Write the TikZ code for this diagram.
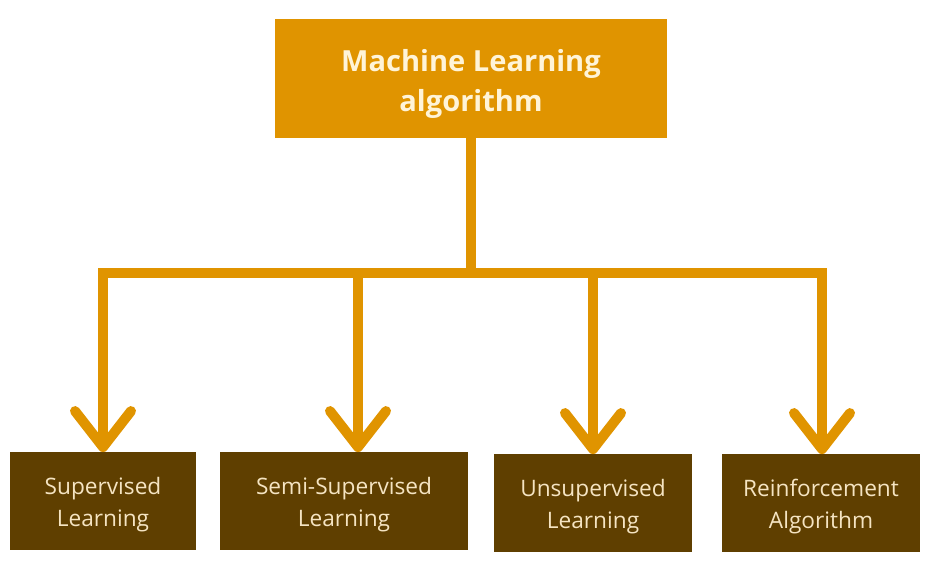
\documentclass[tikz,border=0pt]{standalone}
\usepackage{fontspec}
\setmainfont{Open Sans}
\usetikzlibrary{arrows.meta, positioning}
\definecolor{mlorange}{HTML}{E09400}
\definecolor{mlbrown}{HTML}{5F3F00}
\definecolor{mlcream}{HTML}{FFF4D8}
\definecolor{leaftext}{HTML}{F5E4C2}
\newcommand{\lift}[1]{\rule{0pt}{#1}}
\tikzset{
  topblk/.style = {rectangle, fill=mlorange, text=mlcream, align=center,
                   font=\fontsize{21.8}{30}\selectfont\bfseries, inner sep=0pt,
                   minimum width=294pt, minimum height=89pt},
  leafblk/.style= {rectangle, fill=mlbrown, text=leaftext, align=center,
                   font=\fontsize{17}{24}\selectfont, inner sep=0pt,
                   minimum height=73pt},
  bus/.style    = {line width=7.5pt, draw=mlorange, line cap=rect},
  flow/.style   = {bus, -{Straight Barb[length=27pt, width=42pt, round]}},
}
\begin{document}
\begin{tikzpicture}[x=0.75pt, y=-0.75pt]
    \useasboundingbox (0,0) rectangle (930,581);
    \node[topblk] (mla) at (471,78.5) {\lift{24pt}Machine Learning\\algorithm};
    \node[leafblk, minimum width=139.5pt] (sup) at (103,501) {\lift{19pt}Supervised\\Learning};
    \node[leafblk, minimum width=186pt]   (ssl) at (344,501) {\lift{19pt}Semi-Supervised\\Learning};
    \node[leafblk, minimum width=148.5pt] (uns) at (593,503) {\lift{19pt}Unsupervised\\Learning};
    \node[leafblk, minimum width=148.5pt] (rfl) at (821,503) {\lift{19pt}Reinforcement\\Algorithm};
    % bus
    \coordinate (d1) at (103,273);
    \coordinate (d2) at (358,273);
    \coordinate (d3) at (593,273);
    \coordinate (d4) at (822,273);
    \draw[bus] (mla.south) -- (mla.south |- d1);
    \draw[bus] (d1) -- (d4);
    \foreach \d/\b in {d1/sup, d2/ssl, d3/uns, d4/rfl}{\draw[flow] (\d) -- (\d |- \b.north);}
\end{tikzpicture}
\end{document}
